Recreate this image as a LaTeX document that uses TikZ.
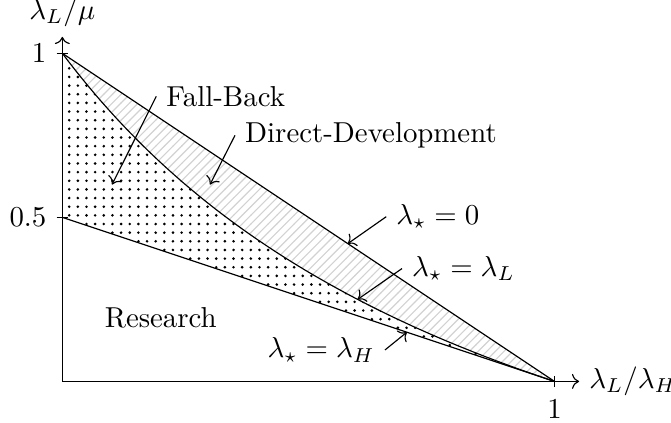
\documentclass[tikz,border=0pt]{standalone}
\usepackage{amsmath,amssymb}
\usepackage{tikz}
\usetikzlibrary{patterns, arrows.meta, positioning}
\tikzset{
  axis/.style={->, draw=black},
  bound/.style={draw=black},
  tick/.style={draw=black},
  hatchfill/.style={pattern=north east lines, pattern color=gray!35},
  dotfill/.style={pattern=dots, pattern color=black},
  regionlabel/.style={font=\normalsize},
  pointer/.style={->, draw=black},
}

\begin{document}
\begin{tikzpicture}[x=6cm, y=4cm]
  \useasboundingbox (-0.76cm,-0.506cm) rectangle (7.42cm,4.65cm);

  % shaded regions
  \fill[hatchfill] (0,1) -- (1,0)
    -- plot[domain=1:0, samples=80] (\x, {(1-\x)/(1+\x)}) -- cycle;
  \fill[dotfill] (0,0.5) -- (1,0)
    -- plot[domain=1:0, samples=80] (\x, {(1-\x)/(1+\x)}) -- cycle;

  % axes
  \coordinate (O) at (0,0);
  \coordinate (xend) at (1.05,0);
  \coordinate (yend) at (0,1.05);
  \draw[axis] (O) -- (xend);
  \draw[axis] (O) -- (yend);
  \node[right] (xlab) at (xend) {$\lambda_L/\lambda_H$};
  \node[above] (ylab) at (yend) {$\lambda_L/\mu$};

  % ticks
  \coordinate (y1) at (0,1);
  \coordinate (yhalf) at (0,0.5);
  \coordinate (x1) at (1,0);
  \draw[tick] ([xshift=-2pt]y1) -- ([xshift=2pt]y1);
  \draw[tick] ([xshift=-2pt]yhalf) -- ([xshift=2pt]yhalf);
  \draw[tick] ([yshift=-2pt]x1) -- ([yshift=2pt]x1);
  \node[left=2pt of y1, inner sep=3.33pt] (y1lab) {$1$};
  \node[left=2pt of yhalf, inner sep=3.33pt] (yhalflab) {$0.5$};
  \node[below=3pt of x1, inner sep=3.33pt] (x1lab) {$1$};

  % boundaries
  \draw[bound] (y1) -- (x1);
  \draw[bound] plot[domain=0:1, samples=80] (\x, {(1-\x)/(1+\x)});
  \draw[bound] (yhalf) -- (x1);

  % labels
  \node[regionlabel] (fb) at (0.332,0.869) {Fall-Back};
  \node[regionlabel] (dd) at (0.627,0.750) {Direct-Development};
  \node[regionlabel] (rs) at (0.200,0.194) {Research};
  \node (l0) at (0.763,0.502) {$\lambda_\star = 0$};
  \node (lL) at (0.815,0.344) {$\lambda_\star = \lambda_L$};
  \node (lH) at (0.526,0.096) {$\lambda_\star = \lambda_H$};

  \coordinate (fbtip) at (0.101,0.600);
  \coordinate (ddtip) at (0.300,0.600);
  \coordinate (l0tip) at (0.58,0.42);
  \coordinate (lLtip) at (0.6,0.25);
  \coordinate (lHtip) at (0.7,0.15);

  \draw[pointer] (fb.west) -- (fbtip);
  \draw[pointer] (dd.west) -- (ddtip);
  \draw[pointer] (l0.west) -- (l0tip);
  \draw[pointer] (lL.west) -- (lLtip);
  \draw[pointer] (lH.east) -- (lHtip);
\end{tikzpicture}
\end{document}
